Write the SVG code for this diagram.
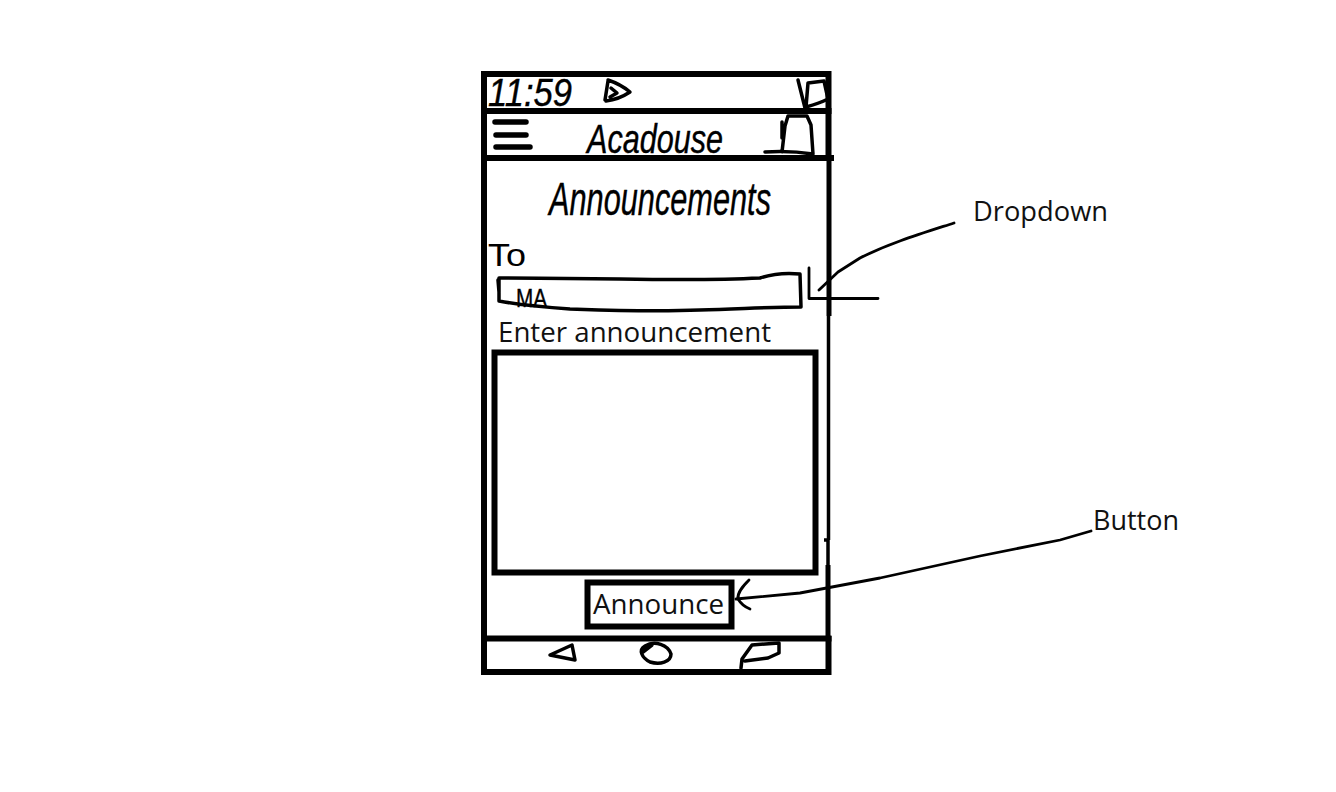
<svg xmlns="http://www.w3.org/2000/svg" width="1336" height="792" viewBox="0 0 1336 792">
<style>
.thick{fill:none;stroke:#000;stroke-width:6;stroke-linecap:square}
.ink{fill:none;stroke:#000;stroke-width:3.500;stroke-linecap:round;stroke-linejoin:round}
.line{fill:none;stroke:#000;stroke-width:2.800;stroke-linecap:round;stroke-linejoin:round}
.hand{font-family:"Liberation Sans",Arial,sans-serif;fill:#000;stroke:#000;stroke-width:.4}
.type{font-family:"Open Sans","Noto Sans",sans-serif;fill:#111}
</style>
<rect width="1336" height="792" fill="#fff"/>
<g id="phone-frame">
<path class="thick" d="M484 74H828.500V158M484 74V672H828.500V639"/>
<path class="thick" d="M484 111H828.500M484 158H831M484 638.500H828.500"/>
<path d="M829 158V316" fill="none" stroke="#000" stroke-width="5"/>
<path d="M828.500 316V540M824 540H828" fill="none" stroke="#000" stroke-width="3.500"/>
<path d="M828 565V640" fill="none" stroke="#000" stroke-width="5"/>
<path d="M828 540V565" fill="none" stroke="#000" stroke-width="3.500"/>
</g>
<g id="status-bar">
<text class="hand" x="488" y="106" font-size="38" textLength="84" lengthAdjust="spacingAndGlyphs" font-style="italic">11:59</text>
<path class="ink" d="M608 81L605 100M608 80C614 82 624 87 630 92C624 96 614 100 606 101M611 88L617 93L610 97"/>
<path class="ink" d="M798 80L805 108M806 107L808 83L824 81L828 99C820 103 813 105 806 107"/>
</g>
<g id="app-bar">
<path d="M495 122H526M496 135H526M496 147H530" fill="none" stroke="#000" stroke-width="5.500" stroke-linecap="round"/>
<text class="hand" x="587" y="153" font-size="40" textLength="136" lengthAdjust="spacingAndGlyphs" font-style="italic">Acadouse</text>
<path class="ink" d="M765 152C780 151 800 152 813 154M782 152L785 126L788 116H807L811 125L813 154M782 122L782 138"/>
</g>
<g id="title">
<text class="hand" x="549" y="215" font-size="46" textLength="222" lengthAdjust="spacingAndGlyphs" font-style="italic">Announcements</text>
</g>
<g id="to-field">
<text font-family="Liberation Sans, Arial, sans-serif" x="488" y="266" font-size="32" textLength="38" lengthAdjust="spacingAndGlyphs">To</text>
<path class="ink" d="M499 278C540 278 590 279 620 279C680 280 740 279 760 278C775 273 790 273 800 274L801 307C770 307 740 309 700 310C650 312 600 310 570 309C540 307 515 304 499 301ZM498 280L499 292"/>
<text class="hand" x="516" y="307" font-size="26" textLength="31" lengthAdjust="spacingAndGlyphs">MA</text>
</g>
<g id="announcement-label">
<text class="type" x="498" y="342" font-size="27" textLength="273" lengthAdjust="spacingAndGlyphs">Enter announcement</text>
</g>
<g id="announcement-input">
<rect class="thick" x="494.500" y="352.500" width="321" height="220"/>
</g>
<g id="announce-button">
<rect class="thick" x="587.500" y="582.500" width="144" height="44"/>
<text class="type" x="593" y="614" font-size="27" textLength="131" lengthAdjust="spacingAndGlyphs">Announce</text>
</g>
<g id="nav-bar">
<path class="ink" d="M550 655L572 645L575 660Z"/>
<path class="ink" d="M645 646C655 640 668 645 671 654C671 662 660 665 650 662C642 658 638 650 645 646ZM643 652L652 645"/>
<path class="ink" d="M741 668L742 659L752 645L779 643V653L768 658L745 661"/>
</g>
<g id="connectors">
<path class="line" d="M809 268V298.500H878"/>
<path class="line" d="M819 290L838 272L860 258C890 243 920 234 954 223"/>
<path class="line" d="M736 599L800 593L880 578L980 556L1060 540L1091 531"/>
<path class="line" d="M749 580C744 585 737 592 738 599C741 604 745 607 750 609"/>
</g>
<g id="dropdown-note"><text class="type" x="973" y="221" font-size="27" textLength="135" lengthAdjust="spacingAndGlyphs">Dropdown</text></g>
<g id="button-note"><text class="type" x="1093" y="530" font-size="27" textLength="86" lengthAdjust="spacingAndGlyphs">Button</text></g>
</svg>
